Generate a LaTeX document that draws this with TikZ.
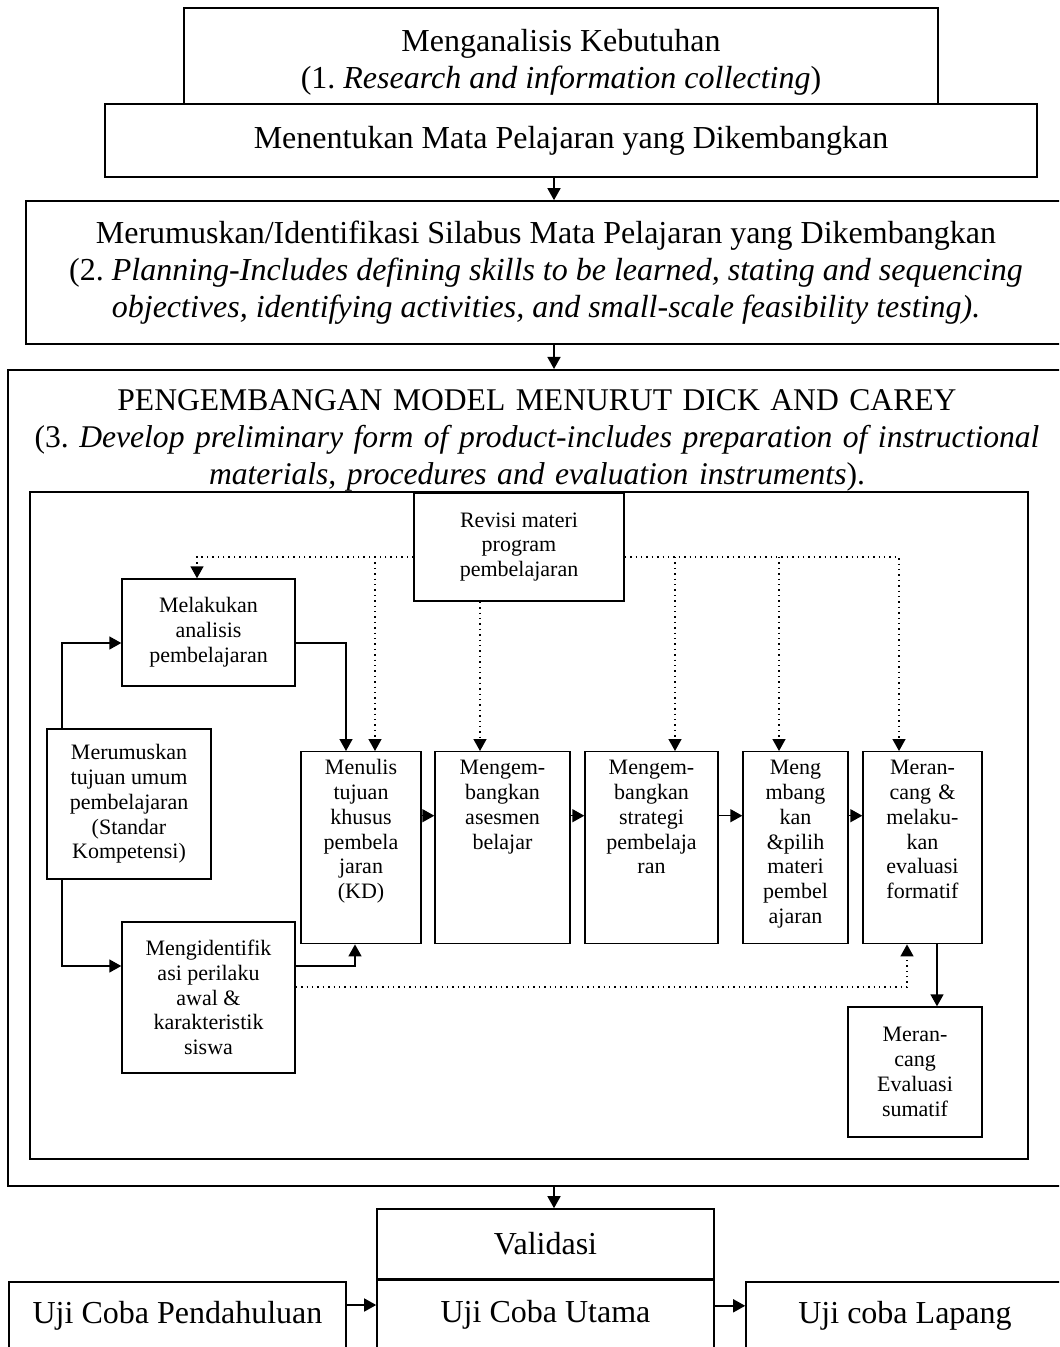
\documentclass[tikz,border=0pt]{standalone}
\usepackage{fontspec}
\setmainfont{Liberation Serif}
\usetikzlibrary{arrows.meta}
\frenchspacing

\newcommand\boxfont{\fontsize{16pt}{18.5pt}\selectfont}
\newcommand\cellfont{\fontsize{11pt}{12.4pt}\selectfont}

\begin{document}
\begin{tikzpicture}[
  x=0.5pt, y=-0.5pt,
  bigbox/.style={
    draw,
    line width=0.8pt,
    fill=white,
    font=\boxfont,
    align=center,
    inner sep=0pt
  },
  lowbox/.style={bigbox, text height=21pt, text depth=30pt, minimum width=#1},
  cell/.style={
    draw,
    line width=0.7pt,
    fill=white,
    font=\cellfont,
    align=center,
    inner sep=0pt
  },
  rowcell/.style={cell, text width=#1, text height=11.5pt, text depth=84.5pt},
  flow/.style={-{Triangle[length=6pt,width=6.5pt]},line width=0.75pt},
  revise/.style={-{Triangle[length=6pt,width=6.5pt]},line width=0.7pt,dotted}
]
  \useasboundingbox (0,0) rectangle (1059,1347);
  \clip (0,0) rectangle (1059,1347);

  % upper steps
  \node[bigbox,minimum width=377pt,minimum height=54.5pt] (needs) at (561,62.5)
    {Menganalisis Kebutuhan\\(1. \textit{Research and information collecting})};
  \node[bigbox,minimum width=466pt,minimum height=36.5pt] (subject) at (571,140.5)
    {Menentukan Mata Pelajaran yang Dikembangkan};
  \node[bigbox,minimum width=520pt,minimum height=71.5pt] (syllabus) at (546,272.5)
    {Merumuskan/Identifikasi Silabus Mata Pelajaran yang Dikembangkan\\
     (2. \textit{Planning-Includes defining skills to be learned, stating and sequencing}\\
     \textit{objectives, identifying activities, and small-scale feasibility testing).}};
  \node[bigbox,font=\fontsize{15.8pt}{18.5pt}\selectfont,text width=529pt,text height=20.5pt,text depth=387.5pt,anchor=north] (develop) at (537,369)
    {PENGEMBANGAN MODEL MENURUT DICK AND CAREY\\
     (3. \textit{Develop preliminary form of product-includes preparation of instructional}\\
     \textit{materials, procedures and evaluation instruments}).};

  % Dick and Carey model
  \node[cell,minimum width=499pt,minimum height=333.5pt] (frame) at (529,825.5) {};
  \node[cell,minimum width=105pt,minimum height=54pt] (revisi) at (519,547)
    {Revisi materi\\program\\pembelajaran};
  \node[cell,minimum width=86.5pt,minimum height=53.5pt] (melakukan) at (208.5,632.5)
    {Melakukan\\analisis\\pembelajaran};
  \node[cell,minimum width=82pt,minimum height=75pt] (tujuan) at (129,804)
    {Merumuskan\\tujuan umum\\pembelajaran\\(Standar\\Kompetensi)};
  \node[cell,minimum width=86.5pt,minimum height=75.5pt] (identifikasi) at (208.5,997.5)
    {Mengidentifik\\asi perilaku\\awal \&\\karakteristik\\siswa};
  \node[rowcell=60pt,anchor=north] (menulis) at (361,751)
    {Menulis\\tujuan\\khusus\\pembela\\jaran\\(KD)};
  \node[rowcell=67.5pt,anchor=north] (asesmen) at (502.5,751)
    {Mengem-\\bangkan\\asesmen\\belajar};
  \node[rowcell=66.5pt,anchor=north] (strategi) at (651.5,751)
    {Mengem-\\bangkan\\strategi\\pembelaja\\ran};
  \node[rowcell=52.5pt,anchor=north] (pilih) at (795.5,751)
    {Meng\\mbang\\kan\\\&pilih\\materi\\pembel\\ajaran};
  \node[rowcell=59.5pt,anchor=north] (formatif) at (922.5,751)
    {Meran-\\cang \&\\melaku-\\kan\\evaluasi\\formatif};
  \node[cell,minimum width=67pt,minimum height=65pt] (sumatif) at (915,1072)
    {Meran-\\cang\\Evaluasi\\sumatif};

  % trials
  \node[bigbox,minimum width=168.5pt,minimum height=35pt] (validasi) at (545.5,1244) {Validasi};
  \node[lowbox=168.5pt,anchor=north] (utama) at (validasi.south) {Uji Coba Utama};
  \node[lowbox=168.5pt,anchor=north] (pendahuluan) at (177.5,1281) {Uji Coba Pendahuluan};
  \node[lowbox=159pt,anchor=north] (lapang) at (905,1281) {Uji coba Lapang};

  % main flow
  \coordinate (spine) at (554,0);
  \draw[flow] (subject.south -| spine) -- (syllabus.north -| spine);
  \draw[flow] (syllabus.south -| spine) -- (develop.north -| spine);
  \draw[flow] (develop.south -| spine) -- (validasi.north -| spine);
  \draw[flow] ([yshift=-12pt]pendahuluan.north east) -- ([yshift=-12pt]pendahuluan.north east -| utama.west);
  \draw[flow] ([yshift=-13pt]utama.north east) -- ([yshift=-13pt]utama.north east -| lapang.west);

  % model connectors
  \draw[flow] ([xshift=-33.5pt]tujuan.north) |- ([yshift=-5.25pt]melakukan.west);
  \draw[flow] ([yshift=-5.25pt]melakukan.east) -| ([xshift=-7.5pt]menulis.north);
  \draw[flow] ([xshift=-33.5pt]tujuan.south) |- ([yshift=15.75pt]identifikasi.west);
  \draw[flow] ([yshift=15.75pt]identifikasi.east) -| ([xshift=-3pt]menulis.south);
  \foreach \a/\b in {menulis/asesmen,asesmen/strategi,strategi/pilih,pilih/formatif}
    \draw[flow] ([yshift=16pt]\a.east) -- ([yshift=16pt]\a.east -| \b.west);
  \draw[flow] ([xshift=7.25pt]formatif.south) -- ([xshift=7.25pt]formatif.south |- sumatif.north);

  % revision loops
  \coordinate (busL) at (197,557);
  \coordinate (busR) at (899,557);
  \draw[revise] ([yshift=-5pt]revisi.west) -- (busL) -- (busL |- melakukan.north);
  \draw[revise] ([yshift=-5pt]revisi.east) -- (busR) -- (busR |- formatif.north);
  \draw[revise] ([xshift=-19.5pt]revisi.south) -- ([xshift=-19.5pt]revisi.south |- asesmen.north);
  \foreach \c/\dx in {menulis/7pt,strategi/11.75pt,pilih/-8.25pt}
    \draw[revise] ([xshift=\dx]\c.north |- busL) -- ([xshift=\dx]\c.north);
  \draw[revise] ([yshift=5.25pt]identifikasi.east) -| ([xshift=-7.75pt]formatif.south);
\end{tikzpicture}
\end{document}
